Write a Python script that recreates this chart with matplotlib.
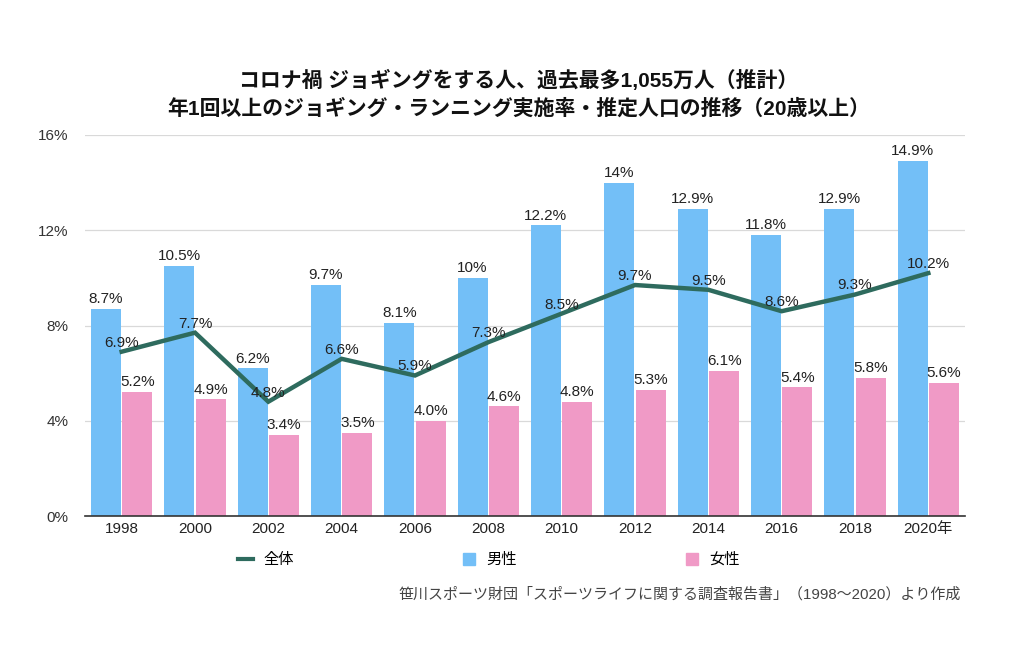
import matplotlib
matplotlib.use("Agg")
import matplotlib.pyplot as plt
import numpy as np
from matplotlib.lines import Line2D

plt.rcParams['font.family'] = ['Liberation Sans', 'Noto Sans CJK JP', 'DejaVu Sans']

years = ["1998", "2000", "2002", "2004", "2006", "2008", "2010", "2012", "2014", "2016", "2018", "2020年"]
male = [8.7, 10.5, 6.2, 9.7, 8.1, 10.0, 12.2, 14.0, 12.9, 11.8, 12.9, 14.9]
female = [5.2, 4.9, 3.4, 3.5, 4.0, 4.6, 4.8, 5.3, 6.1, 5.4, 5.8, 5.6]
total = [6.9, 7.7, 4.8, 6.6, 5.9, 7.3, 8.5, 9.7, 9.5, 8.6, 9.3, 10.2]
male_labels = ["8.7%", "10.5%", "6.2%", "9.7%", "8.1%", "10%", "12.2%", "14%", "12.9%", "11.8%", "12.9%", "14.9%"]
female_labels = ["5.2%", "4.9%", "3.4%", "3.5%", "4.0%", "4.6%", "4.8%", "5.3%", "6.1%", "5.4%", "5.8%", "5.6%"]
total_labels = ["6.9%", "7.7%", "4.8%", "6.6%", "5.9%", "7.3%", "8.5%", "9.7%", "9.5%", "8.6%", "9.3%", "10.2%"]
yticks = [0, 4, 8, 12, 16]
ytick_labels = ["0%", "4%", "8%", "12%", "16%"]
series_names = ["全体", "男性", "女性"]
title = "コロナ禍 ジョギングをする人、過去最多1,055万人（推計）\n年1回以上のジョギング・ランニング実施率・推定人口の推移（20歳以上）"
source = "笹川スポーツ財団「スポーツライフに関する調査報告書」（1998〜2020）より作成"

c_male = "#73bff7"
c_female = "#f09ac6"
c_total = "#2e6b5e"

fig = plt.figure(figsize=(10.24, 6.68), dpi=100)
ax = fig.add_axes([85/1024, 1-516/668, 880/1024, 381/668])

x = np.arange(len(years))
w = 0.41
off = 0.215
ax.bar(x - off, male, width=w, color=c_male, zorder=2)
ax.bar(x + off, female, width=w, color=c_female, zorder=2)
ax.plot(x, total, color=c_total, lw=3.2, zorder=3, solid_joinstyle='miter')

fs = 11
for xi, v, t in zip(x, male, male_labels):
    ax.annotate(t, (xi - off, v), xytext=(0, 2), textcoords='offset points',
                ha='center', va='bottom', fontsize=fs, color='#222222', zorder=4)
for xi, v, t in zip(x, female, female_labels):
    ax.annotate(t, (xi + off, v), xytext=(0, 2), textcoords='offset points',
                ha='center', va='bottom', fontsize=fs, color='#222222', zorder=4)
for xi, v, t in zip(x, total, total_labels):
    ax.annotate(t, (xi, v), xytext=(0, 1.5), textcoords='offset points',
                ha='center', va='bottom', fontsize=fs, color='#222222', zorder=4)

ax.set_xlim(-0.5, len(years) - 0.5)
ax.set_ylim(0, 16)
ax.set_yticks(yticks)
ax.set_yticklabels(ytick_labels, fontsize=fs, color='#333333')
ax.set_xticks(x)
ax.set_xticklabels(years, fontsize=fs, color='#222222')
ax.tick_params(axis='both', length=0)
ax.tick_params(axis='y', pad=12)
ax.tick_params(axis='x', pad=4)
ax.grid(axis='y', color='#d9d9d9', lw=0.9, zorder=0)
ax.set_axisbelow(True)
for s in ['top', 'right', 'left']:
    ax.spines[s].set_visible(False)
ax.spines['bottom'].set_color('#333333')
ax.spines['bottom'].set_linewidth(1.2)
ax.spines['bottom'].set_zorder(5)

fig.text(519/1024, 1-94/668, title, ha='center', va='center', fontsize=15,
         fontweight='bold', linespacing=1.45, color='#111111')

handles = [Line2D([0], [0], color=c_total, lw=3),
           Line2D([0], [0], ls='', marker='s', markersize=9, color=c_male),
           Line2D([0], [0], ls='', marker='s', markersize=9, color=c_female)]
fig.legend(handles, series_names, ncol=3, loc='center left',
           bbox_to_anchor=(238/1024, 1-560/668), frameon=False, fontsize=11,
           borderpad=0, borderaxespad=0,
           handlelength=1.0, handletextpad=0.65, columnspacing=10.95)

fig.text(961/1024, 1-594/668, source, ha='right', va='center', fontsize=10.8, color='#444444')

fig.savefig("out.png", dpi=100, facecolor='white')
